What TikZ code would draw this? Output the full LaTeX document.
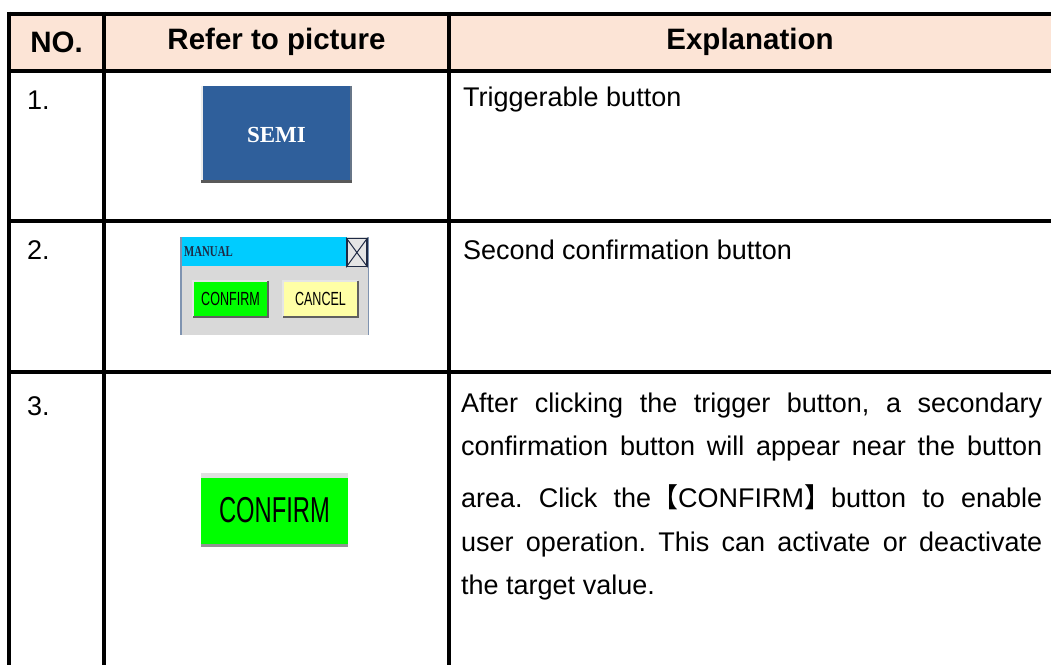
\documentclass[tikz,border=0pt]{standalone}
\usepackage{fontspec}
\setmainfont{Liberation Sans}
\newfontfamily\cjkfont{Noto Sans CJK SC}
\newfontfamily\btnserif{Liberation Serif}
\usetikzlibrary{calc}
\frenchspacing
\definecolor{headfill}{HTML}{FCE4D6}
\definecolor{semiblue}{HTML}{2F5F9B}
\definecolor{titlecyan}{HTML}{00CCFF}
\definecolor{dlggray}{HTML}{D9D9D9}
\definecolor{dlgedge}{HTML}{7F93B0}
\definecolor{btngreen}{HTML}{00FF00}
\definecolor{btnyellow}{HTML}{FFFFA6}
\definecolor{navy}{HTML}{1F2A44}
\tikzset{tabline/.style={line width=4pt}}
\tikzset{headtext/.style={font=\bfseries\fontsize{29.5}{34}\selectfont,inner sep=0pt}}
\tikzset{celltext/.style={font=\fontsize{27}{31}\selectfont,inner sep=0pt,anchor=west}}
\tikzset{btn/.style={inner sep=0pt,text=black,font=\fontsize{19}{22}\selectfont}}
\tikzset{lightedge/.style={line width=1.5pt,draw=gray!20}}
\tikzset{darkedge/.style={line width=2pt,draw=gray!75!black}}
\newcommand{\narrow}[1]{\scalebox{0.66}[1]{#1}}
\newcommand{\jline}[1]{\makebox[581pt][s]{#1}}
\newcommand{\bevel}[1]{%
  \draw[lightedge] (#1.south west) -- (#1.north west) -- (#1.north east);
  \draw[darkedge] (#1.north east) -- (#1.south east) -- (#1.south west);}

\begin{document}
\begin{tikzpicture}[x=1pt,y=-1pt]
  \useasboundingbox (0,0) rectangle (1051,665);

  % header row
  \fill[headfill] (9,13.5) rectangle (1051,70.5);
  \node[headtext] (hno) at (56.5,42) {NO.};
  \node[headtext] (hpic) at (276.5,42) {Refer to picture};
  \node[headtext] (hexp) at (750,42) {Explanation};

  % table rules
  \foreach \y in {13.5,70.5,221,371.5}
    \draw[tabline] (7,\y) -- (1051,\y);
  \foreach \x in {9,104,449}
    \draw[tabline] (\x,11.5) -- (\x,665);

  % row 1: trigger button
  \node[celltext] (n1) at (27,100) {1.};
  \node[inner sep=0pt,fill=semiblue,minimum width=151pt,minimum height=97pt,
    text=white,font=\btnserif\bfseries\fontsize{23}{26}\selectfont] (semi) at (276.5,134.5) {SEMI};
  \draw[line width=2pt,white!85!gray] ([xshift=1pt]semi.north west) -- ([xshift=1pt]semi.south west);
  \draw[line width=2pt,gray!70!semiblue] ([xshift=-1pt]semi.north east) -- ([xshift=-1pt]semi.south east);
  \draw[line width=3pt,gray!70!black] ([yshift=1.5pt]semi.south west) -- ([yshift=1.5pt]semi.south east);
  \node[celltext] (t1) at (463,100) {Triggerable button};

  % row 2: confirmation dialog
  \node[celltext] (n2) at (27,250) {2.};
  \node[inner sep=0pt,fill=dlggray,minimum width=187pt,minimum height=98pt,anchor=north west] (dlg) at (181,237) {};
  \fill[titlecyan] (dlg.north west) rectangle ($(dlg.north east)+(-21,29)$);
  \draw[dlgedge,line width=1.5pt] (dlg.north west) -- (dlg.south west);
  \draw[dlgedge,line width=1.5pt] (dlg.north east) -- (dlg.south east);
  \node[inner sep=0pt,fill=gray!20,draw=navy,line width=1.5pt,minimum width=20pt,minimum height=28pt,
    anchor=north east] (cls) at ($(dlg.north east)+(-0.75,0.75)$) {};
  \draw[navy,line width=1pt] (cls.north west) -- (cls.south east) (cls.north east) -- (cls.south west);
  \node[anchor=west,inner sep=0pt,text=navy,font=\btnserif\bfseries\fontsize{15}{16}\selectfont] (mtitle)
    at ($(dlg.north west)+(3,14.5)$) {\scalebox{0.72}[1]{MANUAL}};
  \node[btn,fill=btngreen,minimum width=75pt,minimum height=36pt] (bconf) at (230.5,299) {\narrow{CONFIRM}};
  \node[btn,fill=btnyellow,minimum width=75pt,minimum height=36pt] (bcanc) at (320.5,299) {\narrow{CANCEL}};
  \bevel{bconf}
  \bevel{bcanc}
  \node[celltext] (t2) at (463,250) {Second confirmation button};

  % row 3: confirm button
  \node[celltext] (n3) at (27,406) {3.};
  \node[btn,fill=btngreen,minimum width=147pt,minimum height=74pt,font=\fontsize{36}{40}\selectfont] (bbig) at (274.5,510) {\narrow{CONFIRM}};
  \fill[gray!25] (bbig.north west) rectangle ($(bbig.north east)+(0,5)$);
  \fill[gray!85] ($(bbig.south west)+(0,-3.5)$) rectangle (bbig.south east);
  \node[celltext] (t3a) at (461,406) {\jline{After clicking the trigger button, a secondary}};
  \node[celltext] (t3b) at (461,449) {\jline{confirmation button will appear near the button}};
  \node[celltext] (t3c) at (461,497) {\jline{area. Click the{\cjkfont【}CONFIRM{\cjkfont】}button to enable}};
  \node[celltext] (t3d) at (461,545) {\jline{user operation. This can activate or deactivate}};
  \node[celltext] (t3e) at (461,588) {the target value.};
\end{tikzpicture}
\end{document}
